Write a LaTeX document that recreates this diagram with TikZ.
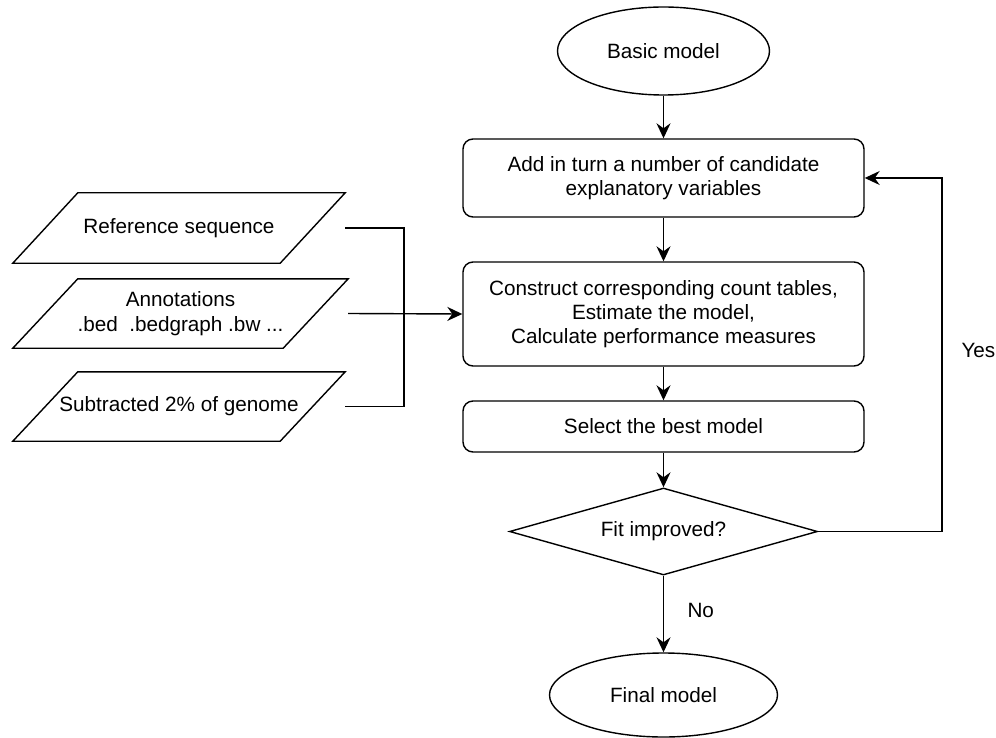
\documentclass[tikz,border=0pt]{standalone}
\usepackage{fontspec}
\setmainfont{Liberation Sans}
\usetikzlibrary{shapes.geometric, arrows.meta, calc}
\begin{document}
\begin{tikzpicture}[x=1pt, y=-1pt,
  every node/.style={font=\fontsize{20.7}{24.3}\selectfont, align=center},
  ln/.style={line width=1.4pt, line join=miter},
  arr/.style={ln, -{Stealth[length=15pt, width=14pt, inset=5pt]}},
  proc/.style={draw, ln, rounded corners=10pt, minimum width=401pt, inner sep=0pt},
  term/.style={draw, ln, ellipse, inner sep=0pt},
  iobox/.style={minimum width=332pt, minimum height=70pt, inner sep=0pt},
  dec/.style={draw, ln, diamond, aspect=3.54, minimum width=308pt, minimum height=87pt, inner sep=0pt},
  lbl/.style={font=\fontsize{20.7}{24.3}\selectfont}]
\useasboundingbox (0,0) rectangle (996,738);

% main column
\node[term, minimum width=212pt, minimum height=88pt] (basic) at (663.5,51) {Basic model};
\node[proc, minimum height=78pt] (add) at (663.5,178) {Add in turn a number of candidate\\explanatory variables};
\node[proc, minimum height=104pt] (cons) at (663.5,314) {Construct corresponding count tables,\\Estimate the model,\\Calculate performance measures};
\node[proc, minimum height=51pt] (sel) at (663.5,426.5) {Select the best model};
\node[dec] (fit) at (663.5,531.5) {Fit improved?};
\node[term, minimum width=228pt, minimum height=84pt] (final) at (663.5,695) {Final model};

% inputs
\node[iobox] (ref) at (179,228) {Reference sequence};
\node[iobox, minimum width=335pt, minimum height=69pt] (ann) at (180.5,313.5) {\raisebox{-3pt}{Annotations}\\[1pt]\raisebox{-3pt}{.bed\ \ .bedgraph .bw ...}};
\node[iobox, minimum height=69pt] (sub) at (179,406.5) {Subtracted 2\% of genome};
\foreach \n in {ref, ann, sub}{
  \draw[ln] (\n.south west) -- ($(\n.north west)+(65,0)$) -- (\n.north east) -- ($(\n.south east)+(-65,0)$) -- cycle;
}

% connectors
\draw[arr] (basic) -- (add);
\draw[arr] (add) -- (cons);
\draw[arr] (cons) -- (sel);
\draw[arr] (sel) -- (fit);
\draw[arr] (fit) -- node[lbl, right=20pt, pos=0.45] (no) {No} (final);

\coordinate (yc) at (942,531.5);
\draw[arr] (fit.east) -- (yc) |- (add.east);
\node[lbl, anchor=west] (yes) at (958,350) {Yes};

\coordinate (jn) at (404,313.5);
\draw[ln] (ref.east) -| (jn);
\draw[ln] (sub.east) -| (jn);
\draw[arr] (ann.east) -- (cons.west);
\end{tikzpicture}
\end{document}
